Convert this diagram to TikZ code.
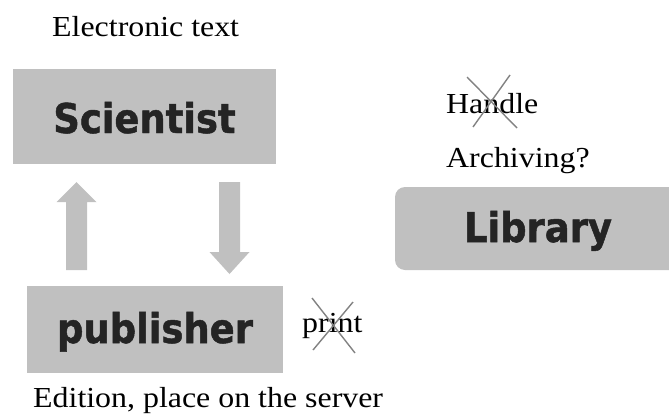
\documentclass[tikz,border=0pt]{standalone}
\usepackage{fontspec}
\setmainfont[FakeStretch=1.1]{Liberation Serif}
\newfontfamily\boxfont[FakeStretch=0.9,FakeBold=1.2]{DejaVu Sans Bold}
\usetikzlibrary{calc}
\definecolor{boxgray}{RGB}{192,192,192}
\definecolor{boxtext}{RGB}{36,36,36}
\definecolor{crossgray}{RGB}{130,130,130}
\tikzset{
  grayblock/.style={fill=boxgray, draw=none, inner sep=0pt, text height=27pt, text depth=0pt,
    font=\boxfont\fontsize{41}{44}\selectfont, text=boxtext},
  label/.style={inner sep=0pt, font=\fontsize{29}{32}\selectfont, text=black},
  arrowfill/.style={fill=boxgray, draw=none},
  crossline/.style={draw=crossgray, line width=1.4pt}
}
\begin{document}
\begin{tikzpicture}[x=1pt,y=-1pt]
\useasboundingbox (0,0) rectangle (669,415);
\clip (0,0) rectangle (669,415);
% boxes
\node[grayblock, text height=33pt, minimum width=263pt, minimum height=95pt] (sci) at (144.5,116.5) {Scientist};
\node[grayblock, minimum width=256pt, minimum height=87pt] (pub) at (155,329.5) {publisher};
\node[grayblock, rounded corners=10pt, minimum width=286pt, minimum height=83pt] (lib) at (538,228.5) {Library};
% labels
\node[label, anchor=base west] (elec) at (52,36) {Electronic text};
\node[label, anchor=base west] (handle) at (446,113) {Handle};
\node[label, anchor=base west] (arch) at (446,167) {Archiving?};
\node[label, anchor=base west] (print) at (302,332) {print};
\node[label, anchor=base west] (edit) at (33,407) {Edition, place on the server};
% block arrows
\coordinate (u0) at (76.5,270);
\coordinate (u1) at (76.5,182);
\fill[arrowfill] ($(u0)+(-10.5,0)$) -- ($(u1)+(-10.5,20)$) -- ($(u1)+(-20,20)$) -- (u1)
  -- ($(u1)+(20,20)$) -- ($(u1)+(10.5,20)$) -- ($(u0)+(10.5,0)$) -- cycle;
\coordinate (d0) at (229.5,182);
\coordinate (d1) at (229.5,274);
\fill[arrowfill] ($(d0)+(-10.5,0)$) -- ($(d1)+(-10.5,-22)$) -- ($(d1)+(-20,-22)$) -- (d1)
  -- ($(d1)+(20,-22)$) -- ($(d1)+(10.5,-22)$) -- ($(d0)+(10.5,0)$) -- cycle;
% crosses
\coordinate (h1) at (467,77); \coordinate (h2) at (517,128);
\coordinate (h3) at (510,75); \coordinate (h4) at (473,127);
\draw[crossline] (h1) -- (h2);
\draw[crossline] (h3) -- (h4);
\coordinate (p1) at (312,298); \coordinate (p2) at (355,353);
\coordinate (p3) at (353,302); \coordinate (p4) at (313,350);
\draw[crossline] (p1) -- (p2);
\draw[crossline] (p3) -- (p4);
\end{tikzpicture}
\end{document}
